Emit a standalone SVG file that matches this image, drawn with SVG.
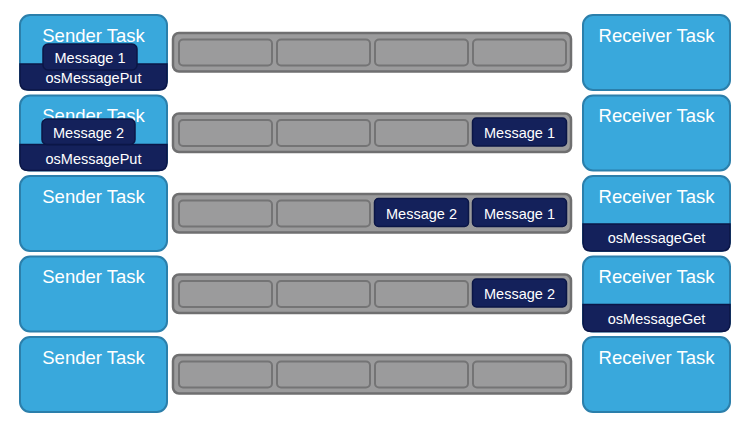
<svg xmlns="http://www.w3.org/2000/svg" width="746" height="424" viewBox="0 0 746 424">
<style>
.task{fill:#39a8dc;stroke:#2b7fab;stroke-width:2}
.queue{fill:#9b9b9c;stroke:#6f6f70;stroke-width:2.5}
.slot{fill:#9b9b9c;stroke:#747475;stroke-width:2}
.msg{fill:#14215b;stroke:#0b1646;stroke-width:1.5}
.bar{fill:#14215b;stroke:#0b1646;stroke-width:1.5}
.t{font-family:"Liberation Sans",Arial,sans-serif;fill:#ffffff;text-anchor:middle}
.big{font-size:18.5px}
.small{font-size:14.5px}
</style>
<rect width="746" height="424" fill="#ffffff"/>

<!-- Row 1 -->
<g id="sender1">
<rect class="task" x="20" y="15" width="147" height="75" rx="10"/>
<text class="t big" x="93.5" y="41.7">Sender Task</text>
<path class="bar" d="M20,64 H167 V82 Q167,90 159,90 H28 Q20,90 20,82 Z"/>
<text class="t small" x="93.5" y="83">osMessagePut</text>
<rect class="msg" x="43" y="44" width="94" height="26" rx="5"/>
<text class="t small" x="90" y="63.3">Message 1</text>
</g>
<g id="queue1">
<rect class="queue" x="173" y="33" width="398" height="38.5" rx="6"/>
<rect class="slot" x="179" y="39.5" width="93" height="26" rx="4"/>
<rect class="slot" x="277" y="39.5" width="93" height="26" rx="4"/>
<rect class="slot" x="375" y="39.5" width="93" height="26" rx="4"/>
<rect class="slot" x="473" y="39.5" width="93" height="26" rx="4"/>
</g>
<g id="receiver1">
<rect class="task" x="583" y="15" width="147" height="75" rx="10"/>
<text class="t big" x="656.5" y="41.7">Receiver Task</text>
</g>

<!-- Row 2 -->
<g id="sender2">
<rect class="task" x="20" y="95.5" width="147" height="75" rx="10"/>
<text class="t big" x="93.5" y="122.2">Sender Task</text>
<path class="bar" d="M20,144.5 H167 V162.5 Q167,170.5 159,170.5 H28 Q20,170.5 20,162.5 Z"/>
<text class="t small" x="93.5" y="163.5">osMessagePut</text>
<rect class="msg" x="42" y="119" width="93" height="25.5" rx="5"/>
<text class="t small" x="88.5" y="137.5">Message 2</text>
</g>
<g id="queue2">
<rect class="queue" x="173" y="113.5" width="398" height="38.5" rx="6"/>
<rect class="slot" x="179" y="120" width="93" height="26" rx="4"/>
<rect class="slot" x="277" y="120" width="93" height="26" rx="4"/>
<rect class="slot" x="375" y="120" width="93" height="26" rx="4"/>
<rect class="msg" x="472.5" y="118" width="94" height="28" rx="4"/>
<text class="t small" x="519.5" y="138">Message 1</text>
</g>
<g id="receiver2">
<rect class="task" x="583" y="95.5" width="147" height="75" rx="10"/>
<text class="t big" x="656.5" y="122.2">Receiver Task</text>
</g>

<!-- Row 3 -->
<g id="sender3">
<rect class="task" x="20" y="176" width="147" height="75" rx="10"/>
<text class="t big" x="93.5" y="202.7">Sender Task</text>
</g>
<g id="queue3">
<rect class="queue" x="173" y="194" width="398" height="38.5" rx="6"/>
<rect class="slot" x="179" y="200.5" width="93" height="26" rx="4"/>
<rect class="slot" x="277" y="200.5" width="93" height="26" rx="4"/>
<rect class="msg" x="374.5" y="198.5" width="94" height="28" rx="4"/>
<text class="t small" x="421.5" y="218.5">Message 2</text>
<rect class="msg" x="472.5" y="198.5" width="94" height="28" rx="4"/>
<text class="t small" x="519.5" y="218.5">Message 1</text>
</g>
<g id="receiver3">
<rect class="task" x="583" y="176" width="147" height="75" rx="10"/>
<text class="t big" x="656.5" y="202.7">Receiver Task</text>
<path class="bar" d="M583,224 H730 V243 Q730,251 722,251 H591 Q583,251 583,243 Z"/>
<text class="t small" x="656.5" y="243">osMessageGet</text>
</g>

<!-- Row 4 -->
<g id="sender4">
<rect class="task" x="20" y="256.5" width="147" height="75" rx="10"/>
<text class="t big" x="93.5" y="283.2">Sender Task</text>
</g>
<g id="queue4">
<rect class="queue" x="173" y="274.5" width="398" height="38.5" rx="6"/>
<rect class="slot" x="179" y="281" width="93" height="26" rx="4"/>
<rect class="slot" x="277" y="281" width="93" height="26" rx="4"/>
<rect class="slot" x="375" y="281" width="93" height="26" rx="4"/>
<rect class="msg" x="472.5" y="279" width="94" height="28" rx="4"/>
<text class="t small" x="519.5" y="299">Message 2</text>
</g>
<g id="receiver4">
<rect class="task" x="583" y="256.5" width="147" height="75" rx="10"/>
<text class="t big" x="656.5" y="283.2">Receiver Task</text>
<path class="bar" d="M583,304.5 H730 V323.5 Q730,331.5 722,331.5 H591 Q583,331.5 583,323.5 Z"/>
<text class="t small" x="656.5" y="323.5">osMessageGet</text>
</g>

<!-- Row 5 -->
<g id="sender5">
<rect class="task" x="20" y="337" width="147" height="75" rx="10"/>
<text class="t big" x="93.5" y="363.7">Sender Task</text>
</g>
<g id="queue5">
<rect class="queue" x="173" y="355" width="398" height="38.5" rx="6"/>
<rect class="slot" x="179" y="361.5" width="93" height="26" rx="4"/>
<rect class="slot" x="277" y="361.5" width="93" height="26" rx="4"/>
<rect class="slot" x="375" y="361.5" width="93" height="26" rx="4"/>
<rect class="slot" x="473" y="361.5" width="93" height="26" rx="4"/>
</g>
<g id="receiver5">
<rect class="task" x="583" y="337" width="147" height="75" rx="10"/>
<text class="t big" x="656.5" y="363.7">Receiver Task</text>
</g>
<g id="connectors"/>
</svg>
